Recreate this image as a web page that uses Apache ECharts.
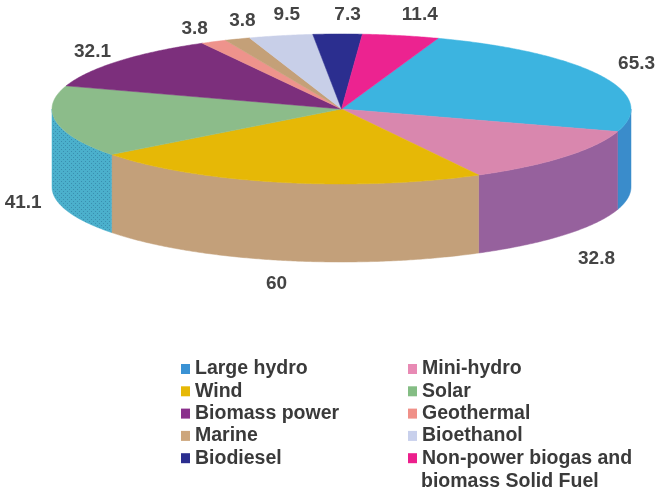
<!DOCTYPE html>
<html>
<head>
<meta charset="utf-8">
<style>html,body{margin:0;padding:0;background:#fff}#chart{width:657px;height:490px}</style>
<script src="https://cdn.jsdelivr.net/npm/echarts@6/dist/echarts.min.js"></script>
</head>
<body>
<div id="chart"></div>
<script>
// Renewable energy categories, clockwise from the start of the pie
const categories = ['Large hydro', 'Mini-hydro', 'Wind', 'Solar', 'Biomass power', 'Geothermal', 'Marine', 'Bioethanol', 'Biodiesel', 'Non-power biogas and biomass Solid Fuel'];
const values = [65.3, 32.8, 60, 41.1, 32.1, 3.8, 3.8, 9.5, 7.3, 11.4];

// Top face, wall and legend key colours per category
const topColors = ['#3cb4e0', '#d987ae', '#e6b806', '#8cbc8a', '#7c2f7c', '#ee938c', '#c4a078', '#c8cfe8', '#2b2e8f', '#ec2390'];
const wallColors = ['#3a8ccb', '#96619d', '#c3a07a', '#4bb0cc', '#7c2f7c', '#ee938c', '#c4a078', '#c8cfe8', '#2b2e8f', '#ec2390'];
const keyColors = ['#3a92d4', '#e88ab4', '#e6b806', '#84bd84', '#8a2f8c', '#f09088', '#cda67c', '#c8d0ec', '#2b2e8f', '#ec1f8c'];

// Value label offsets from the rim point at each slice's middle angle
const labelOffsets = [[36, -12], [32, 23.5], [-4, 23.5], [-33, 3.5], [-26, -9.5], [-19, -12.5], [5, -18.5], [6, -20.5], [10, -19.5], [19, -20.5]];

// Pie geometry: squashed disc with a wall below its front rim
const pie = { cx: 341.5, cy: 109, rx: 289.5, ry: 75, depth: 78, startDeg: 19.5 };
const total = values.reduce((a, b) => a + b, 0);
const fontFamily = '"Liberation Sans", Arial, sans-serif';

function rim(deg, drop) {
  const t = deg * Math.PI / 180;
  return [pie.cx + pie.rx * Math.sin(t), pie.cy - pie.ry * Math.cos(t) + (drop || 0)];
}

function arc(from, to, drop) {
  const pts = [];
  const n = Math.max(2, Math.ceil((to - from) * 2));
  for (let i = 0; i <= n; i++) pts.push(rim(from + (to - from) * i / n, drop));
  return pts;
}

// Small tile of dark dots laid over the solar wall
function dottedTile(color) {
  const c = document.createElement('canvas');
  c.width = 4; c.height = 4;
  const g = c.getContext('2d');
  g.fillStyle = color;
  g.fillRect(0, 0, 4, 4);
  g.fillStyle = '#3a8fb0';
  g.fillRect(1, 1, 1, 1);
  g.fillRect(3, 3, 1, 1);
  return c;
}

function sliceRenderer(index) {
  return function (params, api) {
    const value = api.value(0);
    const before = values.slice(0, index).reduce((a, b) => a + b, 0);
    const from = pie.startDeg + before / total * 360;
    const to = from + value / total * 360;
    const children = [];

    // Wall: only the part of the slice between 90 and 270 degrees faces the viewer
    const wFrom = Math.max(from, 90);
    const wTo = Math.min(to, 270);
    if (wTo > wFrom) {
      const pts = arc(wFrom, wTo, 0).concat(arc(wFrom, wTo, pie.depth).reverse());
      const wallColor = wallColors[index];
      const fill = categories[index] === 'Solar'
        ? { image: dottedTile(wallColor), repeat: 'repeat' }
        : wallColor;
      children.push({
        type: 'polygon',
        shape: { points: pts },
        style: { fill: fill, stroke: wallColor, lineWidth: 0.5 }
      });
    }

    // Top face
    children.push({
      type: 'polygon',
      shape: { points: [[pie.cx, pie.cy]].concat(arc(from, to, 0)) },
      style: { fill: topColors[index], stroke: topColors[index], lineWidth: 0.5 }
    });

    // Value label
    const mid = (from + to) / 2;
    const midRad = mid * Math.PI / 180;
    const anchor = rim(mid, Math.cos(midRad) < 0 ? pie.depth : 0);
    children.push({
      type: 'text',
      z2: 10,
      style: {
        text: String(value),
        x: anchor[0] + labelOffsets[index][0],
        y: anchor[1] + labelOffsets[index][1],
        align: 'center',
        verticalAlign: 'middle',
        fill: '#444444',
        font: 'bold 19px ' + fontFamily
      }
    });
    return { type: 'group', children: children };
  };
}

const series = categories.map((name, i) => ({
  type: 'custom',
  name: name,
  coordinateSystem: 'none',
  silent: true,
  animation: false,
  itemStyle: { color: keyColors[i] },
  data: [[values[i]]],
  renderItem: sliceRenderer(i)
}));

const legendText = { color: '#3a3a3a', fontFamily: fontFamily, fontWeight: 'bold', fontSize: 19.5, lineHeight: 18 };
const legendBase = {
  orient: 'vertical',
  icon: 'rect',
  itemWidth: 9,
  itemHeight: 10,
  itemGap: 2.3,
  padding: 0,
  selectedMode: false,
  textStyle: legendText
};

// The long last entry runs over two lines: the key sits on the first
const longName = categories[9];
const wrapAt = longName.indexOf(' biomass');

const chart = echarts.init(document.getElementById('chart'), null, { renderer: 'canvas' });
chart.setOption({
  animation: false,
  backgroundColor: '#ffffff',
  legend: [
    Object.assign({}, legendBase, { left: 181, top: 359, data: categories.filter((_, i) => i % 2 === 0) }),
    Object.assign({}, legendBase, {
      left: 408,
      top: 359,
      data: categories.filter((_, i) => i % 2 === 1),
      formatter: n => (n === longName ? n.slice(0, wrapAt) : n)
    })
  ],
  graphic: [{
    type: 'text',
    left: 421,
    top: 472,
    style: { text: longName.slice(wrapAt + 1), fill: '#3a3a3a', font: 'bold 19.5px ' + fontFamily }
  }],
  series: series
});
</script>
</body>
</html>
